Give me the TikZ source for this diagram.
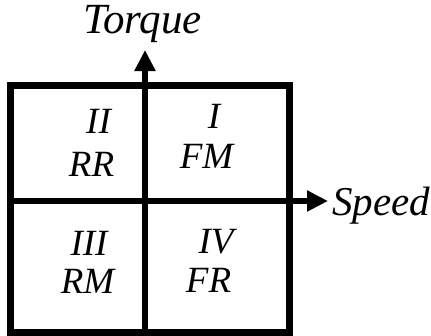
\documentclass[tikz,border=0pt]{standalone}
\usepackage{fontspec}
\setmainfont{Liberation Serif}[ItalicFont={Liberation Serif Italic}]
\newfontfamily\labelfont{Liberation Serif Italic}
\usetikzlibrary{arrows.meta}
\begin{document}
\begin{tikzpicture}[x=1pt,y=-1pt,
  lbl/.style={inner sep=0pt,anchor=base,font=\fontsize{37}{40}\selectfont\labelfont},
  axlbl/.style={inner sep=0pt,anchor=base,font=\fontsize{41}{44}\selectfont\labelfont},
  thick6/.style={line width=7pt},
  axis/.style={line width=6.5pt,-{Triangle[length=21pt,width=20pt]}}]
\useasboundingbox (0,0) rectangle (431,335);
\coordinate (tl) at (10,85);
\coordinate (br) at (289,332);
\coordinate (vb) at (145,332);
\coordinate (vt) at (145,50);
\coordinate (hl) at (10,201);
\coordinate (hr) at (328,201);
\draw[thick6,line join=miter] (tl) rectangle (br);
\draw[axis] (vb) -- (vt);
\draw[axis] (hl) -- (hr);
\node[axlbl,font=\fontsize{43}{46}\selectfont\labelfont,text height=28pt,text depth=9pt] (torque) at (142.5,33) {Torque};
\node[axlbl,anchor=base west] (speed) at (332,215) {Speed};
\node[lbl] (q2a) at (98.5,133) {II};
\node[lbl] (q2b) at (91.5,176) {RR};
\node[lbl] (q1a) at (214,128) {I};
\node[lbl] (q1b) at (206.5,168) {FM};
\node[lbl] (q3a) at (89,255) {III};
\node[lbl] (q3b) at (87.5,293) {RM};
\node[lbl] (q4a) at (216,253) {IV};
\node[lbl] (q4b) at (208.5,292) {FR};
\end{tikzpicture}
\end{document}
